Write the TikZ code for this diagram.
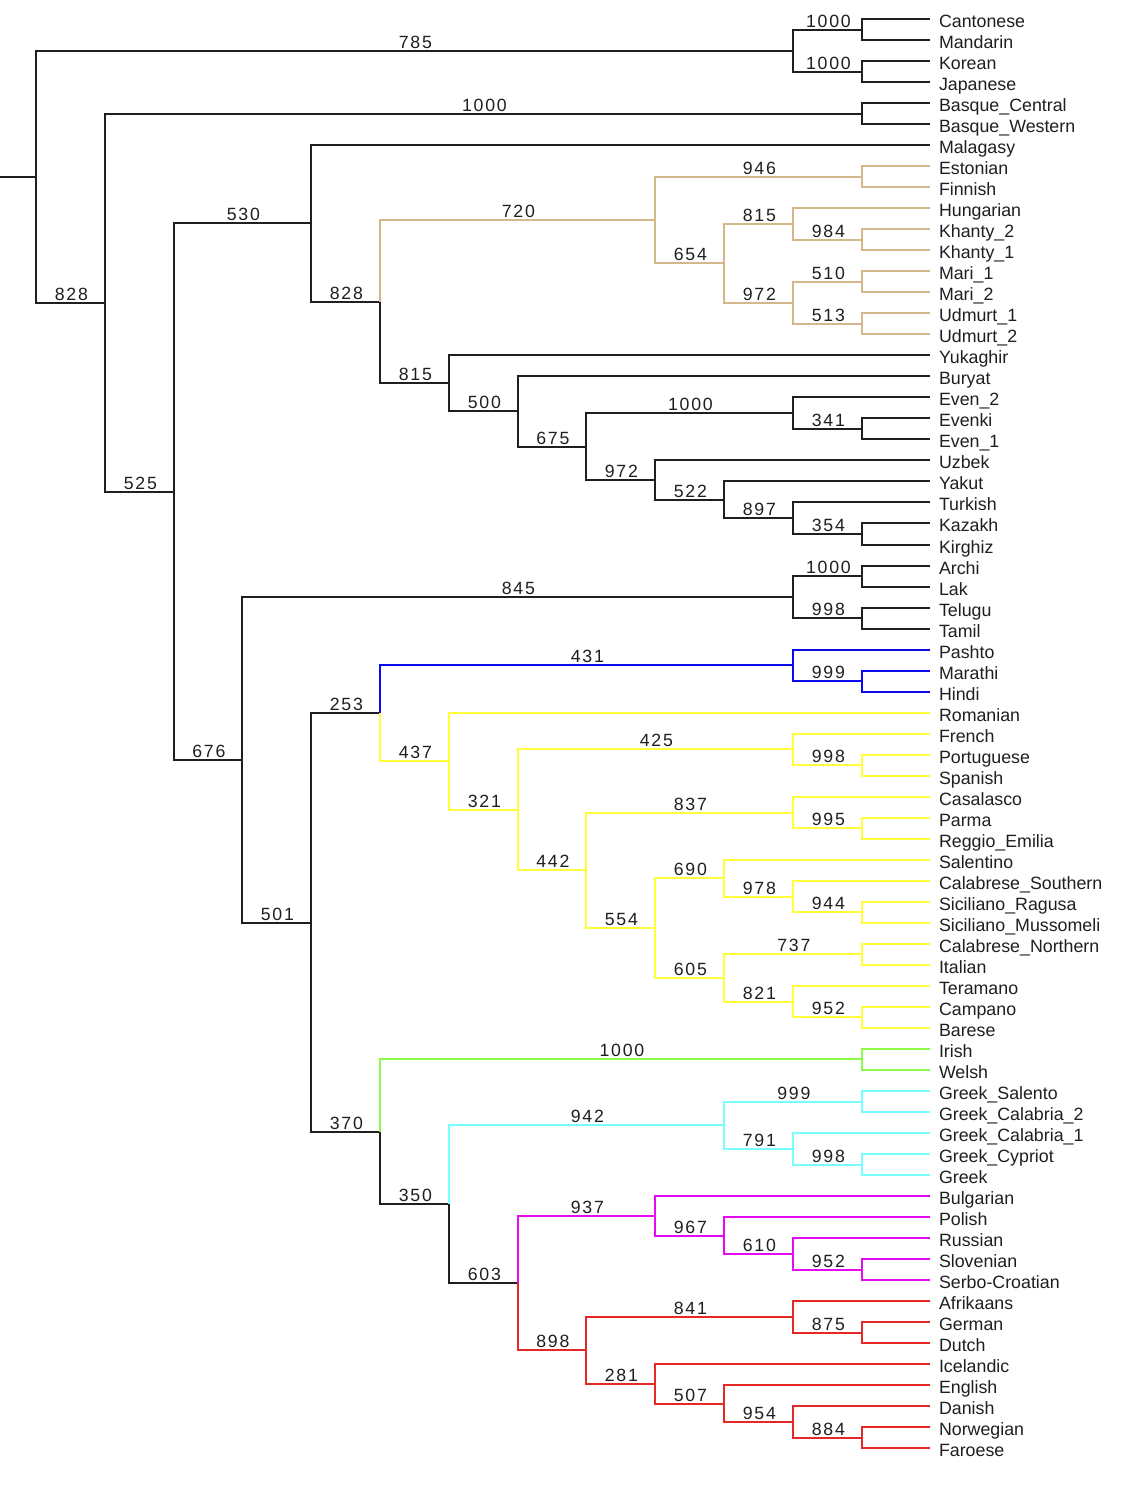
\documentclass[tikz,border=0pt]{standalone}
\usepackage{fontspec}
\setmainfont{Liberation Sans}
\newfontfamily\numfont[LetterSpace=10]{Liberation Sans}
\definecolor{ink}{rgb}{0.12,0.12,0.12}
\definecolor{ctan}{RGB}{212,184,140}
\definecolor{cblue}{RGB}{10,10,240}
\definecolor{cyel}{RGB}{255,255,60}
\definecolor{cgrn}{RGB}{140,250,70}
\definecolor{ccyan}{RGB}{120,255,255}
\definecolor{cmag}{RGB}{230,10,240}
\definecolor{cred}{RGB}{228,40,40}
\newcommand\lvx[1]{round(36+68.81*#1)}
\newcommand\lvy[1]{round(19+21.02*(#1))}
\newcommand\leaf[3]{\coordinate (#1) at (930,{\lvy{#2}}); \node[leaflab] (#1-t) at (#1) {#3};}
\newcommand\inode[3]{\coordinate (#1) at ({\lvx{#2}},{\lvy{#3}});}
\newcommand\brn[4]{\draw[br,draw=#1] (#2) |- node[bl,pos=0.75]{#4} (#3);}
\newcommand\brl[3]{\draw[br,draw=#1] (#2) |- (#3);}
\tikzset{
  br/.style={line width=2pt, line join=miter},
  bl/.style={font=\numfont\fontsize{17.7}{20}\selectfont, inner sep=0pt, anchor=base, yshift=2.8pt, xshift=0.9pt, text=ink},
  leaflab/.style={font=\fontsize{17.8}{20}\selectfont, inner sep=0pt, anchor=base west, xshift=8.8pt, yshift=-8.2pt, text=ink}
}
\begin{document}
\begin{tikzpicture}[x=1pt,y=-1pt]
\useasboundingbox[fill=white] (0pt,0pt) rectangle (1125pt,-1485pt);
% leaves
\leaf{can}{0}{Cantonese}
\leaf{man}{1}{Mandarin}
\leaf{kor}{2}{Korean}
\leaf{jap}{3}{Japanese}
\leaf{bqc}{4}{Basque\_Central}
\leaf{bqw}{5}{Basque\_Western}
\leaf{mlg}{6}{Malagasy}
\leaf{est}{7}{Estonian}
\leaf{fin}{8}{Finnish}
\leaf{hun}{9}{Hungarian}
\leaf{khb}{10}{Khanty\_2}
\leaf{kha}{11}{Khanty\_1}
\leaf{maa}{12}{Mari\_1}
\leaf{mab}{13}{Mari\_2}
\leaf{uda}{14}{Udmurt\_1}
\leaf{udb}{15}{Udmurt\_2}
\leaf{yuk}{16}{Yukaghir}
\leaf{bur}{17}{Buryat}
\leaf{evb}{18}{Even\_2}
\leaf{evk}{19}{Evenki}
\leaf{eva}{20}{Even\_1}
\leaf{uzb}{21}{Uzbek}
\leaf{yak}{22}{Yakut}
\leaf{tur}{23}{Turkish}
\leaf{kaz}{24}{Kazakh}
\leaf{kir}{25}{Kirghiz}
\leaf{arc}{26}{Archi}
\leaf{lak}{27}{Lak}
\leaf{tel}{28}{Telugu}
\leaf{tam}{29}{Tamil}
\leaf{pas}{30}{Pashto}
\leaf{mar}{31}{Marathi}
\leaf{hin}{32}{Hindi}
\leaf{rom}{33}{Romanian}
\leaf{fre}{34}{French}
\leaf{por}{35}{Portuguese}
\leaf{spa}{36}{Spanish}
\leaf{cas}{37}{Casalasco}
\leaf{par}{38}{Parma}
\leaf{reg}{39}{Reggio\_Emilia}
\leaf{sal}{40}{Salentino}
\leaf{cls}{41}{Calabrese\_Southern}
\leaf{sir}{42}{Siciliano\_Ragusa}
\leaf{sim}{43}{Siciliano\_Mussomeli}
\leaf{cln}{44}{Calabrese\_Northern}
\leaf{ita}{45}{Italian}
\leaf{ter}{46}{Teramano}
\leaf{cam}{47}{Campano}
\leaf{bar}{48}{Barese}
\leaf{iri}{49}{Irish}
\leaf{wel}{50}{Welsh}
\leaf{gsa}{51}{Greek\_Salento}
\leaf{gcb}{52}{Greek\_Calabria\_2}
\leaf{gca}{53}{Greek\_Calabria\_1}
\leaf{gcy}{54}{Greek\_Cypriot}
\leaf{gre}{55}{Greek}
\leaf{bul}{56}{Bulgarian}
\leaf{pol}{57}{Polish}
\leaf{rus}{58}{Russian}
\leaf{slo}{59}{Slovenian}
\leaf{sbc}{60}{Serbo-Croatian}
\leaf{afr}{61}{Afrikaans}
\leaf{ger}{62}{German}
\leaf{dut}{63}{Dutch}
\leaf{ice}{64}{Icelandic}
\leaf{eng}{65}{English}
\leaf{dan}{66}{Danish}
\leaf{nor}{67}{Norwegian}
\leaf{far}{68}{Faroese}
% internal nodes
\inode{cm}{12}{0.5}
\inode{kj}{12}{2.5}
\inode{A}{11}{1.5}
\inode{bq}{12}{4.5}
\inode{ef}{12}{7.5}
\inode{kh}{12}{10.5}
\inode{H}{11}{9.75}
\inode{mr}{12}{12.5}
\inode{ud}{12}{14.5}
\inode{I}{11}{13.5}
\inode{G}{10}{11.625}
\inode{F}{9}{9.5625}
\inode{ev}{12}{19.5}
\inode{M}{11}{18.75}
\inode{kk}{12}{24.5}
\inode{P}{11}{23.75}
\inode{O}{10}{22.875}
\inode{N}{9}{21.9375}
\inode{L}{8}{20.34375}
\inode{K}{7}{18.671875}
\inode{J}{6}{17.3359375}
\inode{E}{5}{13.44921875}
\inode{D}{4}{9.724609375}
\inode{al}{12}{26.5}
\inode{tt}{12}{28.5}
\inode{R}{11}{27.5}
\inode{mh}{12}{31.5}
\inode{U}{11}{30.75}
\inode{ps}{12}{35.5}
\inode{X}{11}{34.75}
\inode{pr}{12}{38.5}
\inode{Z}{11}{37.75}
\inode{sic}{12}{42.5}
\inode{AC}{11}{41.75}
\inode{AB}{10}{40.875}
\inode{ci}{12}{44.5}
\inode{cb}{12}{47.5}
\inode{AE}{11}{46.75}
\inode{AD}{10}{45.625}
\inode{AA}{9}{43.25}
\inode{Y}{8}{40.5}
\inode{W}{7}{37.625}
\inode{V}{6}{35.3125}
\inode{T}{5}{33.03125}
\inode{iw}{12}{49.5}
\inode{gs}{12}{51.5}
\inode{gc}{12}{54.5}
\inode{AI}{11}{53.75}
\inode{AH}{10}{52.625}
\inode{ss}{12}{59.5}
\inode{AM}{11}{58.75}
\inode{AL}{10}{57.875}
\inode{AK}{9}{56.9375}
\inode{gd}{12}{62.5}
\inode{AO}{11}{61.75}
\inode{nf}{12}{67.5}
\inode{AR}{11}{66.75}
\inode{AQ}{10}{65.875}
\inode{AP}{9}{64.9375}
\inode{AN}{8}{63.34375}
\inode{AJ}{7}{60.140625}
\inode{AG}{6}{56.3828125}
\inode{AF}{5}{52.94140625}
\inode{S}{4}{42.986328125}
\inode{Q}{3}{35.2431640625}
\inode{C}{2}{22.48388671875}
\inode{B}{1}{13.491943359375}
\inode{root}{0}{7.4959716796875}
\coordinate (stub) at (0,{\lvy{7.4959716796875}});
% edges
\draw[br,draw=ink] (stub) -- (root);
\brn{ink}{root}{A}{785}
\brn{ink}{root}{B}{828}
\brn{ink}{A}{cm}{1000}
\brn{ink}{A}{kj}{1000}
\brl{ink}{cm}{can}\brl{ink}{cm}{man}
\brl{ink}{kj}{kor}\brl{ink}{kj}{jap}
\brn{ink}{B}{bq}{1000}
\brn{ink}{B}{C}{525}
\brl{ink}{bq}{bqc}\brl{ink}{bq}{bqw}
\brn{ink}{C}{D}{530}
\brn{ink}{C}{Q}{676}
\brl{ink}{D}{mlg}
\brn{ink}{D}{E}{828}
\brn{ctan}{E}{F}{720}
\brn{ink}{E}{J}{815}
\brn{ctan}{F}{ef}{946}
\brn{ctan}{F}{G}{654}
\brl{ctan}{ef}{est}\brl{ctan}{ef}{fin}
\brn{ctan}{G}{H}{815}
\brn{ctan}{G}{I}{972}
\brl{ctan}{H}{hun}
\brn{ctan}{H}{kh}{984}
\brl{ctan}{kh}{khb}\brl{ctan}{kh}{kha}
\brn{ctan}{I}{mr}{510}
\brn{ctan}{I}{ud}{513}
\brl{ctan}{mr}{maa}\brl{ctan}{mr}{mab}
\brl{ctan}{ud}{uda}\brl{ctan}{ud}{udb}
\brl{ink}{J}{yuk}
\brn{ink}{J}{K}{500}
\brl{ink}{K}{bur}
\brn{ink}{K}{L}{675}
\brn{ink}{L}{M}{1000}
\brn{ink}{L}{N}{972}
\brl{ink}{M}{evb}
\brn{ink}{M}{ev}{341}
\brl{ink}{ev}{evk}\brl{ink}{ev}{eva}
\brl{ink}{N}{uzb}
\brn{ink}{N}{O}{522}
\brl{ink}{O}{yak}
\brn{ink}{O}{P}{897}
\brl{ink}{P}{tur}
\brn{ink}{P}{kk}{354}
\brl{ink}{kk}{kaz}\brl{ink}{kk}{kir}
\brn{ink}{Q}{R}{845}
\brn{ink}{Q}{S}{501}
\brn{ink}{R}{al}{1000}
\brn{ink}{R}{tt}{998}
\brl{ink}{al}{arc}\brl{ink}{al}{lak}
\brl{ink}{tt}{tel}\brl{ink}{tt}{tam}
\brn{ink}{S}{T}{253}
\brn{ink}{S}{AF}{370}
\brn{cblue}{T}{U}{431}
\brn{cyel}{T}{V}{437}
\brl{cblue}{U}{pas}
\brn{cblue}{U}{mh}{999}
\brl{cblue}{mh}{mar}\brl{cblue}{mh}{hin}
\brl{cyel}{V}{rom}
\brn{cyel}{V}{W}{321}
\brn{cyel}{W}{X}{425}
\brn{cyel}{W}{Y}{442}
\brl{cyel}{X}{fre}
\brn{cyel}{X}{ps}{998}
\brl{cyel}{ps}{por}\brl{cyel}{ps}{spa}
\brn{cyel}{Y}{Z}{837}
\brn{cyel}{Y}{AA}{554}
\brl{cyel}{Z}{cas}
\brn{cyel}{Z}{pr}{995}
\brl{cyel}{pr}{par}\brl{cyel}{pr}{reg}
\brn{cyel}{AA}{AB}{690}
\brn{cyel}{AA}{AD}{605}
\brl{cyel}{AB}{sal}
\brn{cyel}{AB}{AC}{978}
\brl{cyel}{AC}{cls}
\brn{cyel}{AC}{sic}{944}
\brl{cyel}{sic}{sir}\brl{cyel}{sic}{sim}
\brn{cyel}{AD}{ci}{737}
\brn{cyel}{AD}{AE}{821}
\brl{cyel}{ci}{cln}\brl{cyel}{ci}{ita}
\brl{cyel}{AE}{ter}
\brn{cyel}{AE}{cb}{952}
\brl{cyel}{cb}{cam}\brl{cyel}{cb}{bar}
\brn{cgrn}{AF}{iw}{1000}
\brn{ink}{AF}{AG}{350}
\brl{cgrn}{iw}{iri}\brl{cgrn}{iw}{wel}
\brn{ccyan}{AG}{AH}{942}
\brn{ink}{AG}{AJ}{603}
\brn{ccyan}{AH}{gs}{999}
\brn{ccyan}{AH}{AI}{791}
\brl{ccyan}{gs}{gsa}\brl{ccyan}{gs}{gcb}
\brl{ccyan}{AI}{gca}
\brn{ccyan}{AI}{gc}{998}
\brl{ccyan}{gc}{gcy}\brl{ccyan}{gc}{gre}
\brn{cmag}{AJ}{AK}{937}
\brn{cred}{AJ}{AN}{898}
\brl{cmag}{AK}{bul}
\brn{cmag}{AK}{AL}{967}
\brl{cmag}{AL}{pol}
\brn{cmag}{AL}{AM}{610}
\brl{cmag}{AM}{rus}
\brn{cmag}{AM}{ss}{952}
\brl{cmag}{ss}{slo}\brl{cmag}{ss}{sbc}
\brn{cred}{AN}{AO}{841}
\brn{cred}{AN}{AP}{281}
\brl{cred}{AO}{afr}
\brn{cred}{AO}{gd}{875}
\brl{cred}{gd}{ger}\brl{cred}{gd}{dut}
\brl{cred}{AP}{ice}
\brn{cred}{AP}{AQ}{507}
\brl{cred}{AQ}{eng}
\brn{cred}{AQ}{AR}{954}
\brl{cred}{AR}{dan}
\brn{cred}{AR}{nf}{884}
\brl{cred}{nf}{nor}\brl{cred}{nf}{far}
\end{tikzpicture}
\end{document}
